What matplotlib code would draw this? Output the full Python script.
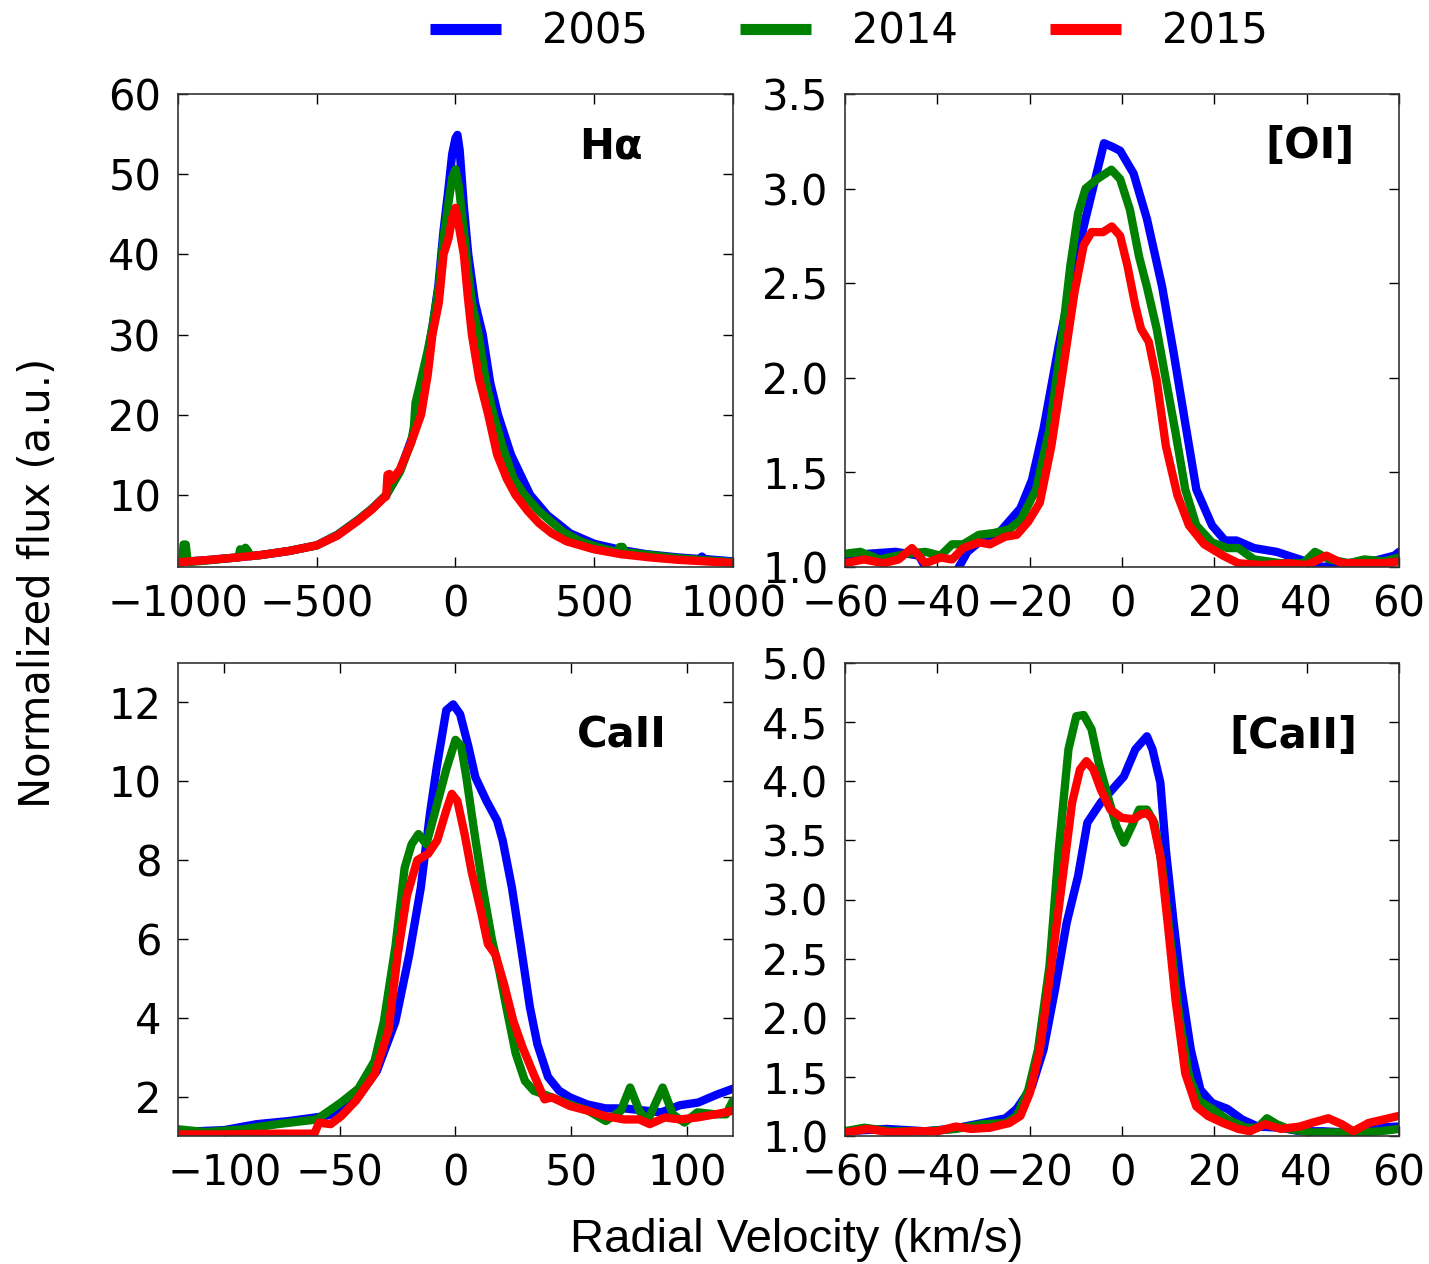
import numpy as np
import matplotlib.pyplot as plt

# ---- H-alpha ----
ha_v_2005 = [-1000, -900, -800, -700, -600, -500, -426, -350, -300, -249, -200, -160, -127, -120,
             -100, -83, -62, -43, -26, -12, 0, 7, 15, 30, 46, 70, 98, 125, 153, 200, 269, 330,
             413, 500, 600, 688, 800, 880, 888, 896, 1000]
ha_f_2005 = [1.6, 1.85, 2.15, 2.5, 3.0, 3.7, 5.0, 6.9, 8.3, 10, 13, 16.8, 20, 24,
             27.5, 31, 36, 43, 48, 52.5, 54.5, 54.9, 53, 46, 40, 34, 30, 24, 20, 15, 10, 7.5,
             5.2, 3.9, 3.1, 2.6, 2.2, 2.0, 2.3, 2.0, 1.7]

ha_v_2014 = [-1000, -985, -980, -972, -965, -900, -800, -782, -776, -765, -757, -748, -740, -700,
             -600, -500, -426, -350, -300, -249, -200, -160, -150, -144, -130, -100, -83, -60,
             -43, -25, -12, 0, 12, 30, 45, 59, 83, 110, 137, 170, 210, 249, 300, 387, 450, 520,
             580, 592, 602, 612, 649, 700, 800, 900, 1000]
ha_f_2014 = [1.5, 1.5, 3.8, 3.8, 1.6, 1.8, 2.15, 2.2, 3.2, 2.9, 3.4, 3.0, 2.35, 2.5,
             3.0, 3.7, 5.0, 6.9, 8.3, 10, 12.9, 16.5, 18.5, 21.5, 23.5, 28, 31, 36,
             42, 46.5, 49.5, 50.6, 48.5, 43, 38, 34, 30, 24, 20, 16, 12, 10, 8, 5.4, 4.2, 3.4,
             2.9, 3.5, 3.5, 2.8, 2.7, 2.5, 2.1, 1.85, 1.6]

ha_v_2015 = [-1000, -900, -800, -700, -600, -500, -426, -350, -300, -262, -250, -245, -238, -230,
             -200, -160, -124, -100, -83, -60, -43, -25, -12, 0, 12, 30, 45, 59, 85, 118, 150,
             185, 216, 260, 300, 347, 400, 500, 596, 700, 800, 900, 1000]
ha_f_2015 = [1.6, 1.85, 2.15, 2.5, 3.0, 3.7, 4.9, 6.8, 8.2, 9.5, 9.8, 12.5, 12.6, 11.8,
             13.2, 16.5, 20, 25, 30, 34, 40, 42, 44.5, 45.8, 43.5, 40, 34.5, 30, 24.5, 20, 15,
             12, 10, 8, 6.5, 5.2, 4.2, 3.2, 2.6, 2.2, 1.9, 1.7, 1.5]

# ---- [OI] ----
oi_v_2005 = [-60, -55, -49, -44, -41, -36, -33.5, -30, -27, -22, -19.5, -17, -13.7, -10.3, -7.9,
             -5.8, -3.9, -2, -0.4, 2.5, 5.4, 8.7, 11.2, 13.7, 16.1, 19.5, 22.3, 24.8, 28.6, 33.5,
             38.5, 43.5, 48.4, 54.2, 59, 60]
oi_f_2005 = [1.04, 1.07, 1.08, 1.06, 0.93, 0.97, 1.08, 1.15, 1.17, 1.31, 1.46, 1.73, 2.17, 2.59, 2.84,
             3.05, 3.24, 3.22, 3.2, 3.08, 2.84, 2.48, 2.13, 1.76, 1.41, 1.22, 1.14, 1.14, 1.10, 1.08,
             1.04, 1.0, 1.02, 1.03, 1.06, 1.08]

oi_v_2014 = [-60, -56.7, -52.5, -46.7, -42.6, -39.3, -36.8, -34.4, -31, -27.7, -24.4, -21.9, -18.6,
             -15.7, -13.2, -11.2, -9.5, -7.9, -5.4, -2.3, -0.4, 1.7, 3.7, 5.4, 7.5, 9.5, 11.6, 13.7,
             16.1, 19.5, 22.8, 25.2, 28.6, 34.4, 39.3, 41.8, 45, 49.2, 52.5, 56.7, 60]
oi_f_2014 = [1.07, 1.08, 1.04, 1.07, 1.08, 1.06, 1.12, 1.12, 1.17, 1.18, 1.20, 1.25, 1.41,
             1.73, 2.17, 2.59, 2.87, 3.0, 3.05, 3.1, 3.05, 2.89, 2.64, 2.48, 2.26, 1.99, 1.71, 1.41,
             1.22, 1.13, 1.10, 1.10, 1.04, 1.02, 1.02, 1.08, 1.04, 1.02, 1.04, 1.03, 1.05]

oi_v_2015 = [-60, -55.9, -51.7, -48.4, -45.5, -42.6, -39.3, -36.8, -34.4, -31, -28.6, -25.3, -22.8,
             -20.3, -17.8, -15.3, -12.8, -10.3, -8.3, -6.6, -4.1, -2.2, -0.4, 1.2, 2.9, 4.1, 5.8,
             7.5, 9.5, 12, 14.5, 17.8, 21.9, 25.2, 30.2, 36, 40, 44.3, 47.6, 52.5, 56.7, 60]
oi_f_2015 = [1.02, 1.04, 1.02, 1.04, 1.10, 1.02, 1.05, 1.04, 1.10, 1.13, 1.12, 1.16, 1.17,
             1.24, 1.34, 1.64, 2.04, 2.45, 2.70, 2.77, 2.77, 2.80, 2.75, 2.59, 2.38, 2.26, 2.19,
             1.99, 1.64, 1.38, 1.22, 1.12, 1.06, 1.02, 1.01, 1.02, 1.01, 1.06, 1.02, 1.02, 1.02, 1.03]

# ---- CaII ----
ca_v_2005 = [-120, -100, -86, -72, -57, -50, -42, -34, -26, -20, -15, -11, -8, -4, -1, 2, 5.5, 8.6,
             13.4, 18, 20.4, 24.4, 28.3, 32.2, 35.4, 40, 44.8, 49.5, 57, 65, 73, 81, 89, 97, 105,
             113, 120]
ca_f_2005 = [1.1, 1.15, 1.3, 1.38, 1.5, 1.6, 2.0, 2.65, 3.9, 5.6, 7.3, 9.2, 10.4, 11.8, 11.95, 11.7,
             10.9, 10.1, 9.5, 9.0, 8.5, 7.3, 5.8, 4.26, 3.33, 2.5, 2.15, 1.98, 1.8, 1.7, 1.7, 1.65,
             1.6, 1.78, 1.85, 2.05, 2.2]

ca_v_2014 = [-120, -108, -92, -77, -60, -49.5, -42, -35, -31, -26, -22, -19, -16, -12.6, -9.4, -4,
             0, 2.4, 4.7, 7.9, 11.8, 15.7, 18.9, 22, 26, 30, 33.8, 41.7, 49.5, 57.4, 65, 71.5,
             75.5, 79.5, 83, 89.6, 94, 99, 104.6, 112.4, 117, 120]
ca_f_2014 = [1.17, 1.1, 1.17, 1.3, 1.42, 1.85, 2.2, 2.9, 3.9, 5.8, 7.8, 8.4, 8.66, 8.4, 9.1, 10.3,
             11.05, 10.9, 10.1, 8.8, 7.3, 6.0, 5.2, 4.26, 3.1, 2.4, 2.15, 1.98, 1.8, 1.64, 1.38,
             1.64, 2.23, 1.64, 1.38, 2.23, 1.55, 1.34, 1.6, 1.55, 1.55, 1.9]

ca_v_2015 = [-120, -100, -76, -61, -59, -54, -49.5, -43, -35, -29, -25, -21, -16.5, -11.8, -7.9, -4,
             -1.6, 0.8, 3.9, 7, 11, 14, 17.3, 21, 25, 29, 33.8, 38.5, 41.7, 49.5, 57.4, 65, 73,
             79.5, 84, 90.5, 97, 104.6, 112.4, 120]
ca_f_2015 = [1.04, 1.04, 1.06, 1.06, 1.34, 1.3, 1.5, 1.9, 2.57, 3.67, 5.6, 7.1, 8.0, 8.16, 8.5, 9.26,
             9.68, 9.5, 8.67, 7.7, 6.7, 5.87, 5.6, 4.85, 3.92, 3.25, 2.57, 1.93, 1.98, 1.76, 1.64,
             1.5, 1.42, 1.42, 1.3, 1.47, 1.42, 1.47, 1.55, 1.64]

# ---- [CaII] ----
fca_v_2005 = [-60, -51, -42.6, -36.8, -30.2, -25.2, -22.8, -19.5, -17, -14.5, -12, -9.5, -7.5, -4.6,
              -2.1, 0.4, 2.9, 5.4, 6.6, 8.3, 9.5, 11.2, 12.8, 14.9, 17, 19.5, 22.8, 26, 29.4, 34.4,
              38.5, 43.5, 48.4, 54.2, 60]
fca_f_2005 = [1.04, 1.06, 1.04, 1.06, 1.11, 1.15, 1.23, 1.42, 1.73, 2.24, 2.8, 3.2, 3.65, 3.82,
              3.93, 4.04, 4.27, 4.38, 4.27, 3.99, 3.42, 2.8, 2.27, 1.73, 1.39, 1.28, 1.23, 1.14, 1.08,
              1.07, 1.04, 1.04, 1.03, 1.07, 1.08]

fca_v_2014 = [-60, -55.9, -50, -42.6, -36, -30.2, -25.2, -22.8, -20.3, -18.2, -15.7, -13.7, -11.6,
              -9.9, -8.3, -6.6, -5, -2.9, -1.2, 0.4, 2.1, 3.7, 5.4, 7, 8.7, 10.3, 12.4, 14.5, 16.6,
              19.5, 22.8, 26.9, 29.4, 31.4, 33.5, 36, 41, 46, 51, 55.9, 60]
fca_f_2014 = [1.04, 1.07, 1.04, 1.04, 1.06, 1.10, 1.11, 1.17, 1.39, 1.73, 2.44, 3.42, 4.27,
              4.55, 4.56, 4.44, 4.15, 3.85, 3.62, 3.48, 3.62, 3.76, 3.76, 3.65, 3.28, 2.72, 2.01,
              1.51, 1.30, 1.23, 1.14, 1.07, 1.07, 1.15, 1.10, 1.06, 1.03, 1.03, 1.03, 1.04, 1.06]

fca_v_2015 = [-60, -55, -50, -45, -40, -36, -32.7, -28.6, -24.4, -22, -19.9, -17.8, -15.3, -12.8,
              -10.8, -9.1, -7.7, -6.2, -4.6, -2.5, 0, 2.5, 4.1, 5.4, 6.6, 8.3, 9.9, 11.6, 13.7,
              16.1, 18.6, 21.9, 25.2, 27.7, 31, 34.4, 38.5, 41, 44.7, 47.6, 50.1, 53.4, 56.7, 60]
fca_f_2015 = [1.03, 1.06, 1.03, 1.04, 1.04, 1.08, 1.06, 1.07, 1.11, 1.17, 1.37, 1.73, 2.44, 3.2,
              3.82, 4.1, 4.17, 4.1, 3.93, 3.76, 3.69, 3.68, 3.72, 3.73, 3.68, 3.37, 2.8, 2.15, 1.53,
              1.25, 1.17, 1.11, 1.06, 1.04, 1.10, 1.06, 1.08, 1.11, 1.15, 1.10, 1.04, 1.11, 1.14, 1.17]

years = ["2005", "2014", "2015"]
colors = ["blue", "green", "red"]

panels = [
    # name, xlim, xticks, ylim, yticks, label pos, series
    ("H\u03b1", (-1000, 1000), [-1000, -500, 0, 500, 1000], (1, 60), [10, 20, 30, 40, 50, 60],
     (0.78, 0.89), [(ha_v_2005, ha_f_2005), (ha_v_2014, ha_f_2014), (ha_v_2015, ha_f_2015)]),
    ("[OI]", (-60, 60), [-60, -40, -20, 0, 20, 40, 60], (1.0, 3.5), np.arange(1.0, 3.51, 0.5),
     (0.84, 0.89), [(oi_v_2005, oi_f_2005), (oi_v_2014, oi_f_2014), (oi_v_2015, oi_f_2015)]),
    ("CaII", (-120, 120), [-100, -50, 0, 50, 100], (1, 13), [2, 4, 6, 8, 10, 12],
     (0.80, 0.846), [(ca_v_2005, ca_f_2005), (ca_v_2014, ca_f_2014), (ca_v_2015, ca_f_2015)]),
    ("[CaII]", (-60, 60), [-60, -40, -20, 0, 20, 40, 60], (1.0, 5.0), np.arange(1.0, 5.01, 0.5),
     (0.81, 0.846), [(fca_v_2005, fca_f_2005), (fca_v_2014, fca_f_2014), (fca_v_2015, fca_f_2015)]),
]

W, H = 1429, 1264
fig = plt.figure(figsize=(W / 100, H / 100), dpi=100)

# axes boxes in pixels: left, top, right, bottom
boxes = [(178, 94, 733, 567), (845, 94, 1399, 567),
         (178, 663, 733, 1136), (845, 663, 1399, 1136)]

lines = []
for (name, xlim, xt, ylim, yt, lpos, series), (l, t, r, b) in zip(panels, boxes):
    ax = fig.add_axes([l / W, 1 - b / H, (r - l) / W, (b - t) / H])
    for (v, f), c, yr in zip(series, colors, years):
        ln, = ax.plot(v, f, color=c, lw=6, label=yr,
                      solid_joinstyle="round", solid_capstyle="round")
        if len(lines) < 3:
            lines.append(ln)
    ax.set_xlim(*xlim)
    ax.set_ylim(*ylim)
    ax.set_xticks(xt)
    ax.set_yticks(yt)
    if ylim[1] < 10:
        ax.set_yticklabels(["%.1f" % y for y in yt])
    ax.tick_params(direction="in", length=7, width=1, top=True, right=True,
                   labelsize=30, pad=12)
    for s in ax.spines.values():
        s.set_linewidth(1.2)
        s.set_color("#333333")
    ax.text(lpos[0], lpos[1], name, transform=ax.transAxes, fontsize=30,
            fontweight="bold", ha="center", va="center")

fig.text(38 / W, 1 - 583 / H, "Normalized flux (a.u.)", rotation=90,
         fontsize=30, ha="center", va="center")
fig.text(797 / W, 1 - 1240 / H, "Radial Velocity (km/s)", fontsize=34,
         family="Liberation Sans", ha="center", va="center")

leg = fig.legend(lines, years, loc="center", bbox_to_anchor=(849 / W, 1 - 32 / H),
                 ncol=3, frameon=False, fontsize=30, handlelength=1.7,
                 handletextpad=1.0, columnspacing=2.2)
for h in leg.get_lines():
    h.set_linewidth(8)
    h.set_solid_capstyle("butt")

fig.savefig("out.png", dpi=100)
